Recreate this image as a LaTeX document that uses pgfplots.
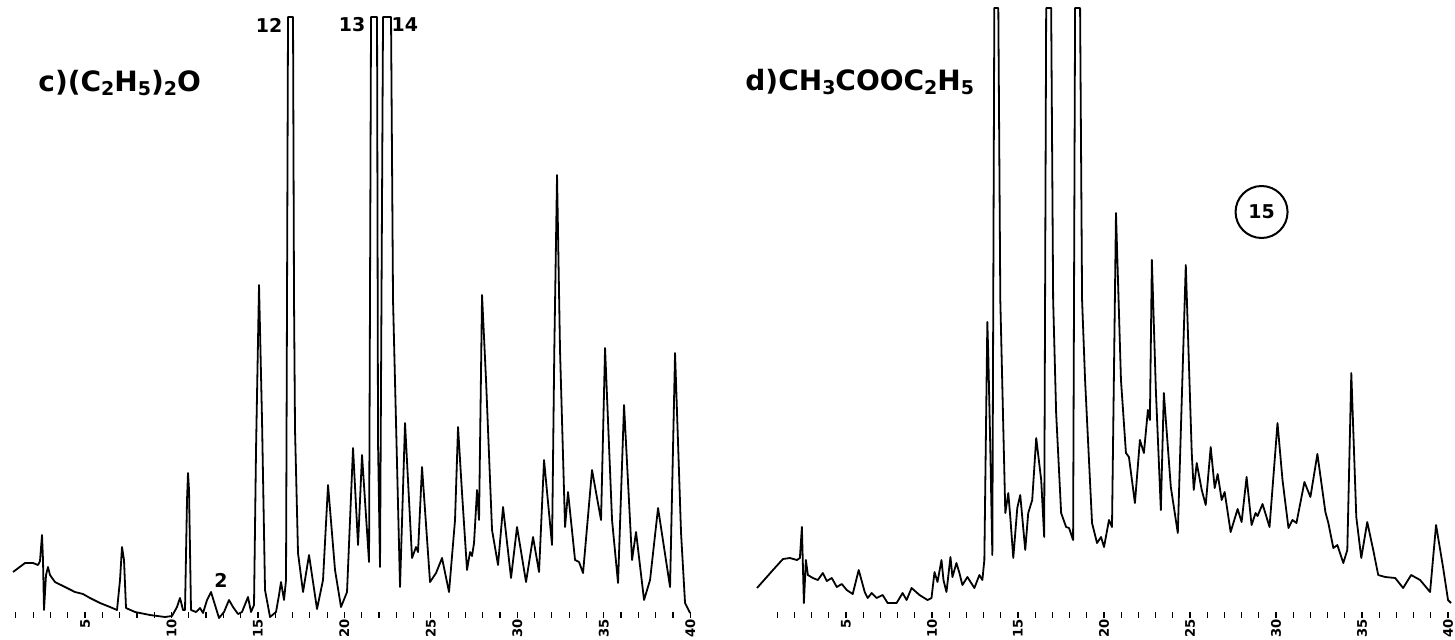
\documentclass[border=0pt]{standalone}
\usepackage{fontspec}
\setmainfont{DejaVu Sans}
\usepackage{pgfplots}
\pgfplotsset{compat=1.18}

% chromatogram traces: retention time (min) vs detector response (arbitrary units)
\newcommand{\sub}[1]{\raisebox{-0.12em}{\fontsize{9.5}{9.5}\selectfont #1}}

\pgfplotsset{
  chrom/.style={
    axis lines*=left,
    axis line style={draw=none},
    ytick=\empty,
    ymin=0, ymax=615,
    y=0.5pt,
    clip=false,
    xtick={5,10,...,40},
    minor xtick={1,...,40},
    tick align=center,
    major tick length=3pt,
    minor tick length=3pt,
    every tick/.style={black, line width=0.6pt},
    /pgf/number format/assume math mode=true,
    xticklabel style={rotate=90, anchor=east, inner sep=0.5pt,
      font=\fontsize{6.6}{6.6}\selectfont\bfseries},
    anchor=south west,
  },
  trace/.style={black, line width=0.9pt, line join=round, mark=none},
}

\begin{document}
\begin{tikzpicture}
\useasboundingbox (0,0) rectangle (727.5pt,319.5pt);

% c) diethyl ether
\begin{axis}[chrom, at={(-0.7pt,12pt)}, x=8.645pt, xmin=0, xmax=40.5]
\addplot[trace] coordinates {
(0.833,43) (1.527,52) (1.99,52) (2.279,50) (2.395,54) (2.51,80) (2.568,55) (2.626,5)
(2.742,40) (2.857,48) (2.973,40) (3.262,33) (3.841,28) (4.419,23) (4.882,21) (5.287,17)
(5.865,12) (6.443,8) (6.848,5) (7.022,35) (7.137,68) (7.253,55) (7.369,7) (7.889,3)
(8.757,0) (9.625,-2) (10.029,-1) (10.319,8) (10.492,17) (10.666,5) (10.781,5) (10.897,115)
(10.955,142) (11.013,125) (11.128,5) (11.418,3) (11.649,7) (11.823,2) (12.054,15) (12.285,23)
(12.517,10) (12.748,-3) (13.037,3) (13.326,15) (13.558,8) (13.847,1) (14.078,3) (14.425,18)
(14.599,3) (14.772,10) (14.888,165) (15.062,330) (15.235,195) (15.409,25) (15.698,-2) (16.045,3)
(16.218,20) (16.334,33) (16.508,15) (16.623,35) (16.739,598) (17.028,598) (17.086,315) (17.144,185)
(17.317,62) (17.607,23) (17.954,60) (18.416,6) (18.763,35) (19.053,130) (19.457,45) (19.804,8)
(20.151,23) (20.499,167) (20.788,70) (21.019,160) (21.424,53) (21.54,598) (21.887,598) (21.945,172)
(22.06,48) (22.234,598) (22.696,598) (22.812,315) (23.217,28) (23.506,192) (23.911,57) (24.142,68)
(24.258,63) (24.489,148) (24.952,33) (25.299,42) (25.646,57) (26.051,23) (26.398,95) (26.572,188)
(26.803,122) (27.092,45) (27.266,63) (27.381,59) (27.497,72) (27.671,125) (27.787,95) (27.96,320)
(28.191,235) (28.538,85) (28.885,50) (29.175,108) (29.637,37) (29.984,88) (30.505,33) (30.91,78)
(31.257,43) (31.546,155) (32.009,70) (32.14,265) (32.298,440) (32.47,265) (32.761,88) (32.934,123)
(33.339,55) (33.57,53) (33.802,42) (34.322,145) (34.612,117) (34.843,95) (35.075,267) (35.479,95)
(35.826,32) (36.173,210) (36.636,55) (36.867,83) (37.33,15) (37.677,35) (38.14,107) (38.834,28)
(39.123,262) (39.47,82) (39.701,12) (39.991,2)
};
\node[anchor=west, font=\fontsize{14}{14}\selectfont\bfseries, inner sep=0pt]
  at (axis cs:2.28,532) {c)(C\sub{2}H\sub{5})\sub{2}O};
\node[font=\fontsize{9.5}{9.5}\selectfont\bfseries] at (axis cs:15.64,590) {12};
\node[font=\fontsize{9.5}{9.5}\selectfont\bfseries] at (axis cs:20.44,590) {13};
\node[font=\fontsize{9.5}{9.5}\selectfont\bfseries] at (axis cs:23.50,590) {14};
\node[font=\fontsize{9.5}{9.5}\selectfont\bfseries] at (axis cs:12.86,35) {2};
\end{axis}

% d) ethyl acetate
\begin{axis}[chrom, at={(375.7pt,12pt)}, x=8.6pt, xmin=-0.5, xmax=40.3]
\addplot[trace] coordinates {
(-0.174,27) (0.754,45) (1.333,56) (1.739,57) (2.145,55) (2.319,57) (2.435,88) (2.551,12)
(2.667,55) (2.783,40) (3.072,37) (3.362,35) (3.652,42) (3.884,34) (4.174,37) (4.464,28)
(4.754,31) (5.043,25) (5.391,21) (5.739,45) (6.087,23) (6.261,17) (6.493,22) (6.783,17)
(7.130,20) (7.420,12) (7.942,12) (8.290,22) (8.522,15) (8.812,27) (9.275,20) (9.739,15)
(9.971,17) (10.145,43) (10.319,33) (10.551,55) (10.667,35) (10.841,23) (11.072,58) (11.188,38)
(11.420,52) (11.594,42) (11.768,30) (12.058,38) (12.464,27) (12.754,40) (12.928,35) (13.043,55)
(13.159,215) (13.217,293) (13.275,258) (13.391,165) (13.507,60) (13.623,607) (13.855,607) (13.971,315)
(14.261,102) (14.435,122) (14.551,98) (14.725,57) (14.957,107) (15.130,120) (15.420,65) (15.594,102)
(15.826,115) (16.058,177) (16.348,135) (16.522,78) (16.638,607) (16.928,607) (17.043,315) (17.217,202)
(17.507,102) (17.797,88) (17.971,87) (18.203,75) (18.319,607) (18.609,607) (18.725,315) (18.899,235)
(19.304,92) (19.594,72) (19.826,78) (20.0,68) (20.290,95) (20.464,88) (20.696,402) (20.986,235)
(21.275,162) (21.449,158) (21.797,112) (22.087,175) (22.319,162) (22.551,205) (22.667,195) (22.783,355)
(23.014,225) (23.304,105) (23.478,222) (23.884,128) (24.290,82) (24.754,350) (25.101,162) (25.217,125)
(25.391,152) (25.681,125) (25.913,110) (26.203,168) (26.435,127) (26.609,141) (26.841,115) (27.014,123)
(27.362,83) (27.768,106) (28.0,93) (28.290,138) (28.580,90) (28.812,102) (28.928,99) (29.217,111)
(29.623,88) (30.087,192) (30.377,135) (30.725,87) (30.957,95) (31.188,92) (31.652,133) (32.0,118)
(32.406,161) (32.870,103) (33.043,92) (33.333,67) (33.565,70) (33.913,52) (34.145,65) (34.377,242)
(34.667,98) (34.957,57) (35.304,93) (35.652,65) (35.942,40) (36.348,38) (36.928,37) (37.391,27)
(37.855,40) (38.377,35) (38.957,23) (39.304,90) (39.710,48) (40.0,15) (40.174,12)
};
\node[anchor=west, font=\fontsize{14}{14}\selectfont\bfseries, inner sep=0pt]
  at (axis cs:-0.87,533) {d)CH\sub{3}COOC\sub{2}H\sub{5}};
\node[draw, circle, line width=1pt, minimum size=26pt, inner sep=0pt,
  font=\fontsize{9.5}{9.5}\selectfont\bfseries] at (axis cs:29.16,403) {15};
\end{axis}
\end{tikzpicture}
\end{document}
